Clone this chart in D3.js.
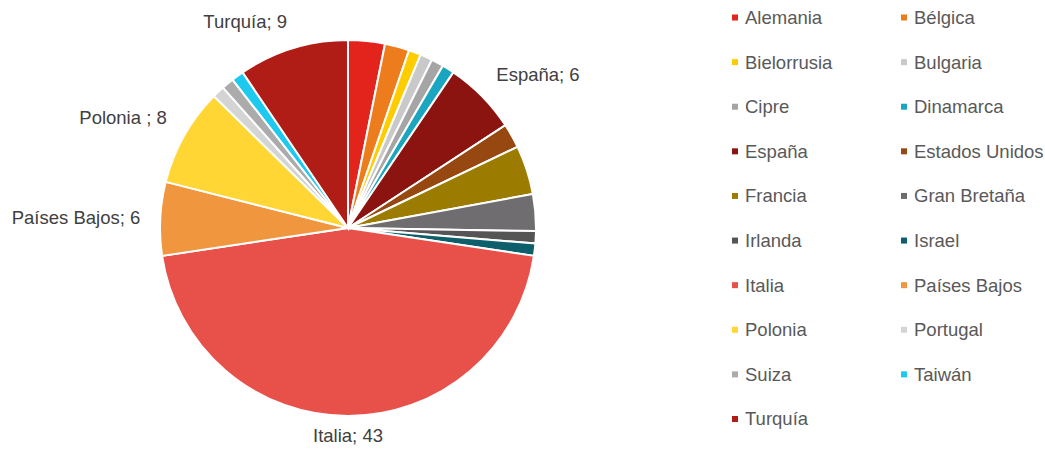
<!DOCTYPE html>
<html>
<head>
<meta charset="utf-8">
<script src="https://cdn.jsdelivr.net/npm/d3@7"></script>
<style>
  body { margin: 0; background: #fff; font-family: "Liberation Sans", Arial, sans-serif; }
  svg text { font-family: "Liberation Sans", Arial, sans-serif; }
</style>
</head>
<body>
<div id="chart"></div>
<script>
// countries in legend / slice order
const countries = ['Alemania', 'Bélgica', 'Bielorrusia', 'Bulgaria', 'Cipre', 'Dinamarca',
  'España', 'Estados Unidos', 'Francia', 'Gran Bretaña', 'Irlanda', 'Israel',
  'Italia', 'Países Bajos', 'Polonia', 'Portugal', 'Suiza', 'Taiwán', 'Turquía'];
const values = [3, 2, 1, 1, 1, 1, 6, 2, 4, 3, 1, 1, 43, 6, 8, 1, 1, 1, 9];
const colors = ['#e3241c', '#ed7d1c', '#ffcc00', '#c9c9c9', '#a5a5a5', '#1aa6c1',
  '#8b1410', '#964810', '#9c7c00', '#6f6d6f', '#555555', '#0d5f6c',
  '#e8504a', '#f0963e', '#ffd633', '#d4d4d4', '#ababab', '#1ec9f0', '#b01c16'];
// only these slices carry a data label
const labelled = { 'España': 'España; 6', 'Italia': 'Italia; 43', 'Países Bajos': 'Países Bajos; 6',
  'Polonia': 'Polonia ; 8', 'Turquía': 'Turquía; 9' };

const width = 1045, height = 450;
const cx = 348, cy = 228, radius = 188;

const data = countries.map((c, i) => ({ country: c, value: values[i], color: colors[i] }));

const svg = d3.select('#chart').append('svg')
  .attr('width', width).attr('height', height);

const pie = d3.pie().sort(null).value(d => d.value);
const arc = d3.arc().innerRadius(0).outerRadius(radius);
const labelArc = d3.arc().innerRadius(208).outerRadius(208);

const g = svg.append('g').attr('transform', `translate(${cx},${cy})`);

const arcs = pie(data);

g.selectAll('path')
  .data(arcs)
  .join('path')
  .attr('d', arc)
  .attr('fill', d => d.data.color)
  .attr('stroke', '#fff')
  .attr('stroke-width', 2);

const midAngle = d => (d.startAngle + d.endAngle) / 2;

// data labels
g.selectAll('text.lbl')
  .data(arcs.filter(d => labelled[d.data.country]))
  .join('text')
  .attr('class', 'lbl')
  .attr('transform', d => {
    const [x, y] = labelArc.centroid(d);
    // labels on the upper half sit a bit higher
    return `translate(${x},${Math.cos(midAngle(d)) > 0.3 ? y - 8 : y})`;
  })
  .attr('text-anchor', d => {
    const s = Math.sin(midAngle(d));
    if (Math.abs(s) < 0.1) return 'middle';
    return s > 0 ? 'start' : 'end';
  })
  .attr('dy', '0.35em')
  .attr('font-size', 18.5)
  .attr('fill', '#404040')
  .text(d => labelled[d.data.country]);

// legend, two columns
const legend = svg.append('g').attr('class', 'legend');
const colX = d3.scaleOrdinal().domain([0, 1]).range([735, 904]);
const rowY = d3.scaleLinear().domain([0, 9]).range([17.5, 419]);

const items = legend.selectAll('g')
  .data(data)
  .join('g')
  .attr('transform', (d, i) => `translate(${colX(i % 2)},${rowY(Math.floor(i / 2))})`);

items.append('rect')
  .attr('x', -3).attr('y', -3)
  .attr('width', 6).attr('height', 6)
  .attr('fill', d => d.color);

items.append('text')
  .attr('x', 10)
  .attr('dy', '0.35em')
  .attr('font-size', 18.5)
  .attr('fill', '#595959')
  .text(d => d.country);
</script>
</body>
</html>
